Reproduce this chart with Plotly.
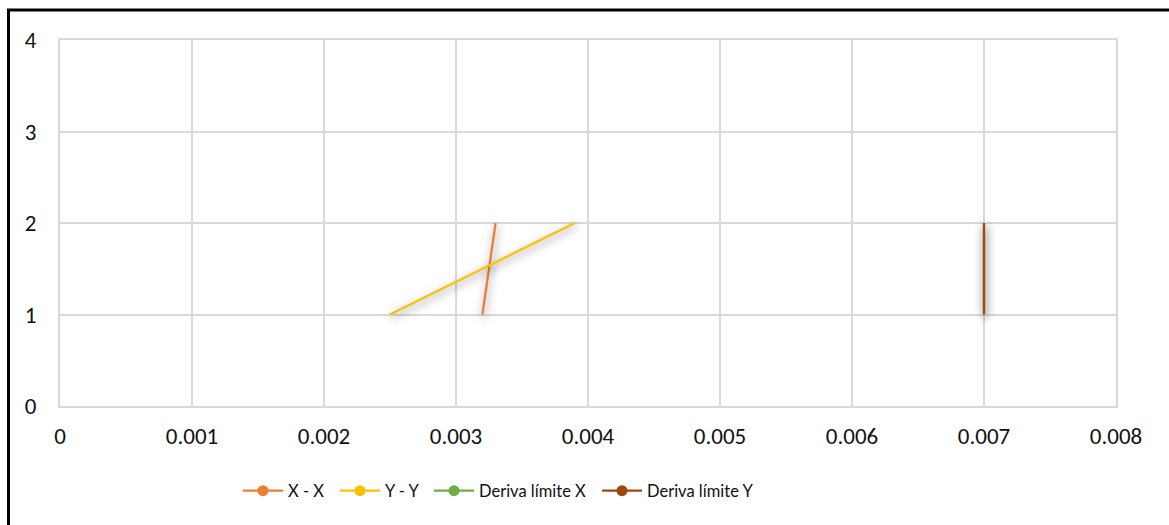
import plotly.graph_objects as go

# Drift profiles per storey (x = drift, y = storey level)
xx_drift = [0.0032, 0.0033]
xx_level = [1, 2]
yy_drift = [0.0025, 0.0039]
yy_level = [1, 2]
lim_x_drift = [0.007, 0.007]
lim_x_level = [1, 2]
lim_y_drift = [0.007, 0.007]
lim_y_level = [1, 2]

x_ticks = [0, 0.001, 0.002, 0.003, 0.004, 0.005, 0.006, 0.007, 0.008]
x_tick_text = ["0", "0.001", "0.002", "0.003", "0.004", "0.005", "0.006", "0.007", "0.008"]
y_ticks = [0, 1, 2, 3, 4]

series = [
    ("X - X", xx_drift, xx_level, "#ED7D31"),
    ("Y - Y", yy_drift, yy_level, "#FFC000"),
    ("Deriva límite X", lim_x_drift, lim_x_level, "#70AD47"),
    ("Deriva límite Y", lim_y_drift, lim_y_level, "#9E480E"),
]

W, H = 1169, 525
ml, mr, mt, mb = 60, 53, 40, 119
pw, ph = W - ml - mr, H - mt - mb

def px(xp):
    return (xp - ml) / pw

def py(yp):
    return (H - mb - yp) / ph

# left pixel edge of each legend entry along the bottom row
legend_left = [238, 335, 429, 597]
legend_keys = ["legend", "legend2", "legend3", "legend4"]

fig = go.Figure()
for (name, xs, ys, color), key in zip(series, legend_keys):
    fig.add_trace(go.Scatter(
        x=xs, y=ys, name=name, mode="lines+markers",
        line=dict(color=color, width=2.25),
        marker=dict(color=color, size=11),
        hoverinfo="x+y+name", legend=key,
    ))

tick_font = dict(family="Calibri, Carlito, Lato, sans-serif", size=23, color="#111111")
legend_font = dict(family="Lato, sans-serif", size=16.5, color="#111111")
grid = "#D9D9D9"

legends = {}
for key, left in zip(legend_keys, legend_left):
    legends[key] = dict(
        orientation="h", x=px(left), xanchor="left", y=py(491), yanchor="middle",
        font=legend_font, itemwidth=40, itemclick=False, itemdoubleclick=False,
        bgcolor="rgba(0,0,0,0)", borderwidth=0,
    )

fig.update_layout(
    width=W, height=H,
    margin=dict(l=ml, r=mr, t=mt, b=mb),
    paper_bgcolor="white", plot_bgcolor="white",
    showlegend=True,
    xaxis=dict(
        range=[0, 0.008], tickvals=x_ticks, ticktext=x_tick_text,
        showgrid=True, gridcolor=grid, gridwidth=2,
        zeroline=False, showline=True, mirror=True, linecolor=grid, linewidth=2,
        tickfont=tick_font, ticks="", ticklabelstandoff=8, fixedrange=True,
    ),
    yaxis=dict(
        range=[0, 4], tickvals=y_ticks,
        showgrid=True, gridcolor=grid, gridwidth=2,
        zeroline=False, showline=True, mirror=True, linecolor=grid, linewidth=2,
        tickfont=tick_font, ticks="", ticklabelstandoff=17, fixedrange=True,
    ),
    shapes=[dict(
        type="rect", xref="paper", yref="paper",
        x0=px(8.5), x1=px(W + 20), y0=py(H + 20), y1=py(10),
        line=dict(color="black", width=3), fillcolor="rgba(0,0,0,0)", layer="above",
    )],
    **legends,
)

# Soft shadow under the series lines; markers shown only in the legend
post = """
var s = document.createElement('style');
s.textContent = '.scatterlayer .trace .js-line{filter:drop-shadow(1px 3px 4px rgba(0,0,0,0.5));}' +
                '.scatterlayer .trace .points{display:none;}';
document.head.appendChild(s);
"""
fig.write_html("out.html", post_script=post, config={"displayModeBar": False})
